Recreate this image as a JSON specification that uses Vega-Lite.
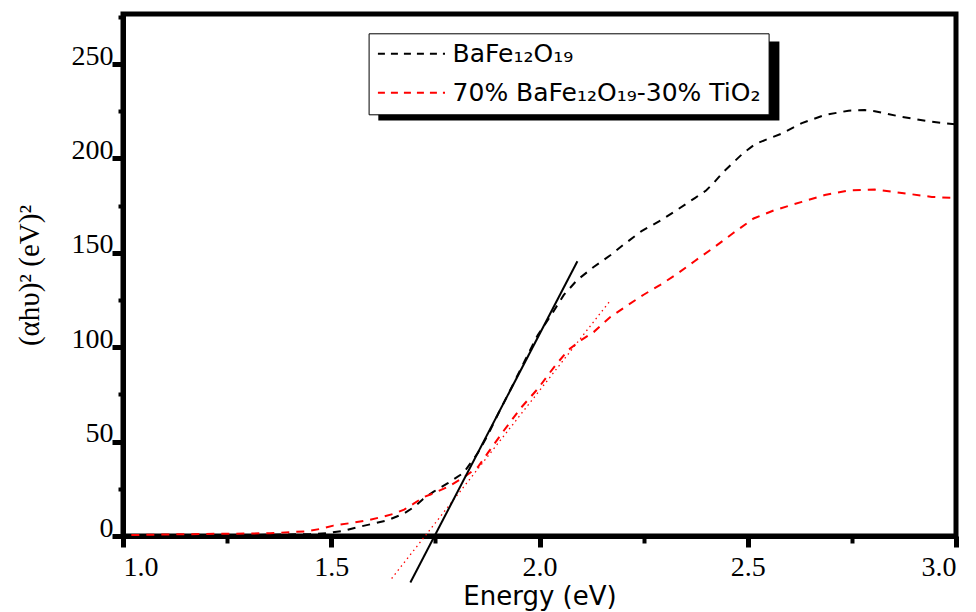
{
  "$schema": "https://vega.github.io/schema/vega-lite/v6.json",
  "width": 833,
  "height": 522,
  "autosize": {"type": "none"},
  "padding": {"left": 123, "top": 14, "right": 20, "bottom": 76},
  "config": {
    "view": {"stroke": "black", "strokeWidth": 5},
    "axis": {"grid": false, "domainColor": "black", "tickColor": "black", "labelColor": "black", "titleColor": "black"}
  },
  "datasets": {
    "curves": [
      {"E": 1.0, "A": 0.2, "series": "BaFe₁₂O₁₉"},
      {"E": 1.1, "A": 0.2, "series": "BaFe₁₂O₁₉"},
      {"E": 1.2, "A": 0.3, "series": "BaFe₁₂O₁₉"},
      {"E": 1.3, "A": 0.5, "series": "BaFe₁₂O₁₉"},
      {"E": 1.4, "A": 0.8, "series": "BaFe₁₂O₁₉"},
      {"E": 1.45, "A": 1.0, "series": "BaFe₁₂O₁₉"},
      {"E": 1.49, "A": 1.5, "series": "BaFe₁₂O₁₉"},
      {"E": 1.53, "A": 2.8, "series": "BaFe₁₂O₁₉"},
      {"E": 1.57, "A": 5.0, "series": "BaFe₁₂O₁₉"},
      {"E": 1.6, "A": 6.5, "series": "BaFe₁₂O₁₉"},
      {"E": 1.633, "A": 8.2, "series": "BaFe₁₂O₁₉"},
      {"E": 1.673, "A": 11.7, "series": "BaFe₁₂O₁₉"},
      {"E": 1.7, "A": 15.5, "series": "BaFe₁₂O₁₉"},
      {"E": 1.72, "A": 19.5, "series": "BaFe₁₂O₁₉"},
      {"E": 1.746, "A": 23.5, "series": "BaFe₁₂O₁₉"},
      {"E": 1.78, "A": 28.0, "series": "BaFe₁₂O₁₉"},
      {"E": 1.818, "A": 33.5, "series": "BaFe₁₂O₁₉"},
      {"E": 1.852, "A": 44.0, "series": "BaFe₁₂O₁₉"},
      {"E": 1.876, "A": 53.5, "series": "BaFe₁₂O₁₉"},
      {"E": 1.903, "A": 65.7, "series": "BaFe₁₂O₁₉"},
      {"E": 1.936, "A": 80.0, "series": "BaFe₁₂O₁₉"},
      {"E": 1.965, "A": 93.0, "series": "BaFe₁₂O₁₉"},
      {"E": 1.996, "A": 106.5, "series": "BaFe₁₂O₁₉"},
      {"E": 2.028, "A": 117.0, "series": "BaFe₁₂O₁₉"},
      {"E": 2.058, "A": 127.6, "series": "BaFe₁₂O₁₉"},
      {"E": 2.09, "A": 135.5, "series": "BaFe₁₂O₁₉"},
      {"E": 2.13, "A": 142.5, "series": "BaFe₁₂O₁₉"},
      {"E": 2.17, "A": 148.7, "series": "BaFe₁₂O₁₉"},
      {"E": 2.2, "A": 154.0, "series": "BaFe₁₂O₁₉"},
      {"E": 2.245, "A": 161.5, "series": "BaFe₁₂O₁₉"},
      {"E": 2.29, "A": 167.0, "series": "BaFe₁₂O₁₉"},
      {"E": 2.33, "A": 172.7, "series": "BaFe₁₂O₁₉"},
      {"E": 2.373, "A": 179.0, "series": "BaFe₁₂O₁₉"},
      {"E": 2.4, "A": 183.0, "series": "BaFe₁₂O₁₉"},
      {"E": 2.418, "A": 187.0, "series": "BaFe₁₂O₁₉"},
      {"E": 2.44, "A": 192.5, "series": "BaFe₁₂O₁₉"},
      {"E": 2.466, "A": 198.0, "series": "BaFe₁₂O₁₉"},
      {"E": 2.49, "A": 203.0, "series": "BaFe₁₂O₁₉"},
      {"E": 2.518, "A": 207.6, "series": "BaFe₁₂O₁₉"},
      {"E": 2.55, "A": 210.5, "series": "BaFe₁₂O₁₉"},
      {"E": 2.58, "A": 213.0, "series": "BaFe₁₂O₁₉"},
      {"E": 2.63, "A": 218.7, "series": "BaFe₁₂O₁₉"},
      {"E": 2.685, "A": 223.0, "series": "BaFe₁₂O₁₉"},
      {"E": 2.742, "A": 225.3, "series": "BaFe₁₂O₁₉"},
      {"E": 2.78, "A": 225.6, "series": "BaFe₁₂O₁₉"},
      {"E": 2.805, "A": 225.0, "series": "BaFe₁₂O₁₉"},
      {"E": 2.87, "A": 222.0, "series": "BaFe₁₂O₁₉"},
      {"E": 2.94, "A": 219.5, "series": "BaFe₁₂O₁₉"},
      {"E": 3.0, "A": 218.0, "series": "BaFe₁₂O₁₉"},
      {"E": 1.02, "A": 0.5, "series": "70% BaFe₁₂O₁₉-30% TiO₂"},
      {"E": 1.1, "A": 0.8, "series": "70% BaFe₁₂O₁₉-30% TiO₂"},
      {"E": 1.2, "A": 1.1, "series": "70% BaFe₁₂O₁₉-30% TiO₂"},
      {"E": 1.3, "A": 1.3, "series": "70% BaFe₁₂O₁₉-30% TiO₂"},
      {"E": 1.353, "A": 1.5, "series": "70% BaFe₁₂O₁₉-30% TiO₂"},
      {"E": 1.4, "A": 2.0, "series": "70% BaFe₁₂O₁₉-30% TiO₂"},
      {"E": 1.441, "A": 2.5, "series": "70% BaFe₁₂O₁₉-30% TiO₂"},
      {"E": 1.475, "A": 3.8, "series": "70% BaFe₁₂O₁₉-30% TiO₂"},
      {"E": 1.505, "A": 5.5, "series": "70% BaFe₁₂O₁₉-30% TiO₂"},
      {"E": 1.545, "A": 6.8, "series": "70% BaFe₁₂O₁₉-30% TiO₂"},
      {"E": 1.585, "A": 8.2, "series": "70% BaFe₁₂O₁₉-30% TiO₂"},
      {"E": 1.62, "A": 10.0, "series": "70% BaFe₁₂O₁₉-30% TiO₂"},
      {"E": 1.649, "A": 11.7, "series": "70% BaFe₁₂O₁₉-30% TiO₂"},
      {"E": 1.675, "A": 14.0, "series": "70% BaFe₁₂O₁₉-30% TiO₂"},
      {"E": 1.697, "A": 17.0, "series": "70% BaFe₁₂O₁₉-30% TiO₂"},
      {"E": 1.722, "A": 20.6, "series": "70% BaFe₁₂O₁₉-30% TiO₂"},
      {"E": 1.745, "A": 22.6, "series": "70% BaFe₁₂O₁₉-30% TiO₂"},
      {"E": 1.78, "A": 26.0, "series": "70% BaFe₁₂O₁₉-30% TiO₂"},
      {"E": 1.818, "A": 31.0, "series": "70% BaFe₁₂O₁₉-30% TiO₂"},
      {"E": 1.852, "A": 36.5, "series": "70% BaFe₁₂O₁₉-30% TiO₂"},
      {"E": 1.876, "A": 44.0, "series": "70% BaFe₁₂O₁₉-30% TiO₂"},
      {"E": 1.915, "A": 56.0, "series": "70% BaFe₁₂O₁₉-30% TiO₂"},
      {"E": 1.955, "A": 67.8, "series": "70% BaFe₁₂O₁₉-30% TiO₂"},
      {"E": 1.996, "A": 78.0, "series": "70% BaFe₁₂O₁₉-30% TiO₂"},
      {"E": 2.035, "A": 89.5, "series": "70% BaFe₁₂O₁₉-30% TiO₂"},
      {"E": 2.069, "A": 98.5, "series": "70% BaFe₁₂O₁₉-30% TiO₂"},
      {"E": 2.1, "A": 103.8, "series": "70% BaFe₁₂O₁₉-30% TiO₂"},
      {"E": 2.13, "A": 108.0, "series": "70% BaFe₁₂O₁₉-30% TiO₂"},
      {"E": 2.17, "A": 116.0, "series": "70% BaFe₁₂O₁₉-30% TiO₂"},
      {"E": 2.21, "A": 122.0, "series": "70% BaFe₁₂O₁₉-30% TiO₂"},
      {"E": 2.25, "A": 127.8, "series": "70% BaFe₁₂O₁₉-30% TiO₂"},
      {"E": 2.29, "A": 133.0, "series": "70% BaFe₁₂O₁₉-30% TiO₂"},
      {"E": 2.33, "A": 138.8, "series": "70% BaFe₁₂O₁₉-30% TiO₂"},
      {"E": 2.373, "A": 145.7, "series": "70% BaFe₁₂O₁₉-30% TiO₂"},
      {"E": 2.418, "A": 152.7, "series": "70% BaFe₁₂O₁₉-30% TiO₂"},
      {"E": 2.466, "A": 160.6, "series": "70% BaFe₁₂O₁₉-30% TiO₂"},
      {"E": 2.514, "A": 168.2, "series": "70% BaFe₁₂O₁₉-30% TiO₂"},
      {"E": 2.562, "A": 172.4, "series": "70% BaFe₁₂O₁₉-30% TiO₂"},
      {"E": 2.6, "A": 175.0, "series": "70% BaFe₁₂O₁₉-30% TiO₂"},
      {"E": 2.63, "A": 177.0, "series": "70% BaFe₁₂O₁₉-30% TiO₂"},
      {"E": 2.685, "A": 180.6, "series": "70% BaFe₁₂O₁₉-30% TiO₂"},
      {"E": 2.742, "A": 183.0, "series": "70% BaFe₁₂O₁₉-30% TiO₂"},
      {"E": 2.805, "A": 183.5, "series": "70% BaFe₁₂O₁₉-30% TiO₂"},
      {"E": 2.87, "A": 181.7, "series": "70% BaFe₁₂O₁₉-30% TiO₂"},
      {"E": 2.942, "A": 179.6, "series": "70% BaFe₁₂O₁₉-30% TiO₂"},
      {"E": 3.0, "A": 179.0, "series": "70% BaFe₁₂O₁₉-30% TiO₂"}
    ],
    "fitRed": [
      {"E": 1.645, "A": -22.5},
      {"E": 2.17, "A": 124.7}
    ],
    "fitBlack": [
      {"E": 1.69, "A": -24.6},
      {"E": 2.091, "A": 145.5}
    ]
  },
  "layer": [
    {
      "data": {"values": [{}]},
      "mark": {"type": "rect", "color": "black"},
      "encoding": {
        "x": {"datum": 1.613, "type": "quantitative", "scale": {"domain": [1, 3], "nice": false}, "axis": null},
        "x2": {"datum": 2.576},
        "y": {"datum": 261.9, "type": "quantitative", "scale": {"domain": [0, 276.5], "nice": false}, "axis": null},
        "y2": {"datum": 220.1}
      }
    },
    {
      "data": {"name": "curves"},
      "mark": {"type": "line", "strokeWidth": 2, "strokeDash": [8, 7]},
      "encoding": {
        "x": {
          "field": "E", "type": "quantitative",
          "scale": {"domain": [1, 3], "nice": false},
          "axis": {
            "orient": "bottom", "values": [1, 1.5, 2, 2.5, 3], "format": ".1f",
            "labelFont": "Liberation Serif", "labelFontSize": 28, "labelPadding": 6,
            "tickSize": 11, "tickWidth": 5, "domainWidth": 5,
            "title": "Energy (eV)", "titleFont": "DejaVu Sans", "titleFontSize": 26,
            "titleFontWeight": "normal", "titlePadding": 2
          }
        },
        "y": {
          "field": "A", "type": "quantitative",
          "scale": {"domain": [0, 276.5], "nice": false},
          "axis": {
            "orient": "left", "values": [0, 50, 100, 150, 200, 250],
            "labelFont": "Liberation Serif", "labelFontSize": 28, "labelPadding": -1,
            "labelBaseline": "alphabetic",
            "tickSize": 11, "tickWidth": 5, "domainWidth": 5,
            "title": "(αhυ)² (eV)²", "titleFont": "Liberation Serif", "titleFontSize": 29,
            "titleFontWeight": "normal", "titlePadding": 27
          }
        },
        "color": {
          "field": "series", "type": "nominal",
          "scale": {"domain": ["BaFe₁₂O₁₉", "70% BaFe₁₂O₁₉-30% TiO₂"], "range": ["#000000", "#ff0000"]},
          "legend": {
            "title": null, "orient": "none", "legendX": 245.6, "legendY": 19.3,
            "fillColor": "white", "strokeColor": "black", "padding": 8,
            "symbolType": "M-1,0H5", "symbolSize": 500, "symbolStrokeWidth": 2,
            "symbolDash": [7, 6], "labelOffset": 51, "rowPadding": 13,
            "labelFont": "DejaVu Sans", "labelFontSize": 25, "labelColor": "black",
            "labelLimit": 600
          }
        }
      }
    },
    {
      "data": {"name": "fitRed"},
      "mark": {"type": "line", "color": "#ff0000", "strokeWidth": 1.3, "strokeDash": [1.5, 3.5]},
      "encoding": {
        "x": {
          "field": "E", "type": "quantitative",
          "scale": {"domain": [1, 3], "nice": false},
          "axis": {
            "orient": "bottom", "values": [1.25, 1.75, 2.25, 2.75], "labels": false,
            "domain": false, "tickSize": 7, "tickWidth": 4, "title": null
          }
        },
        "y": {
          "field": "A", "type": "quantitative",
          "scale": {"domain": [0, 276.5], "nice": false},
          "axis": {
            "orient": "left", "values": [25, 75, 125, 175, 225, 275], "labels": false,
            "domain": false, "tickSize": 5, "tickWidth": 4, "title": null
          }
        }
      }
    },
    {
      "data": {"name": "fitBlack"},
      "mark": {"type": "line", "color": "black", "strokeWidth": 2},
      "encoding": {
        "x": {"field": "E", "type": "quantitative", "scale": {"domain": [1, 3], "nice": false}, "axis": null},
        "y": {"field": "A", "type": "quantitative", "scale": {"domain": [0, 276.5], "nice": false}, "axis": null}
      }
    }
  ],
  "resolve": {"axis": {"x": "independent", "y": "independent"}}
}
